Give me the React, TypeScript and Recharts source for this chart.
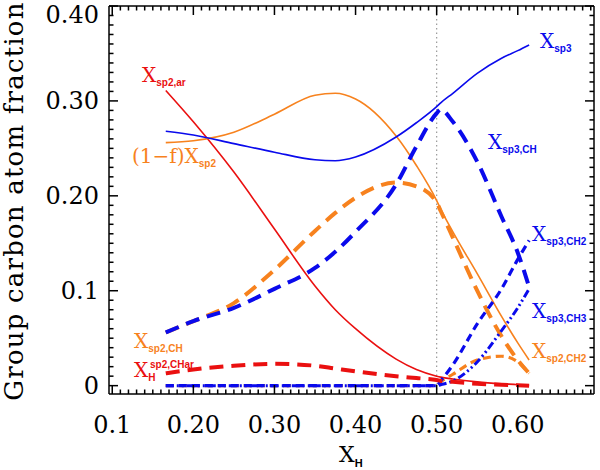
import { Line, LineChart, ReferenceLine, XAxis, YAxis } from 'recharts';

// X_H grid shared by every curve
const xH = [0.166, 0.2, 0.25, 0.3, 0.35, 0.375, 0.4, 0.45, 0.475, 0.5, 0.505, 0.52, 0.55, 0.58, 0.6, 0.614];

const xSp3 = [0.268, 0.264, 0.255, 0.246, 0.238, 0.237, 0.241, 0.262, 0.277, 0.294, 0.298, 0.308, 0.329, 0.345, 0.353, 0.359];
const xSp2Free = [0.256, 0.258, 0.267, 0.286, 0.306, 0.308, 0.302, 0.263, 0.232, 0.195, 0.186, 0.162, 0.118, 0.073, 0.045, 0.027];
const xSp2Ar = [0.311, 0.278, 0.225, 0.165, 0.105, 0.08, 0.06, 0.028, 0.017, 0.01, 0.009, 0.007, 0.004, 0.002, 0.001, 0.0];
const xSp2CH = [0.056, 0.068, 0.087, 0.122, 0.163, 0.182, 0.198, 0.214, 0.21, 0.193, 0.184, 0.156, 0.1, 0.052, 0.027, 0.013];
const xSp3CH = [0.056, 0.068, 0.082, 0.102, 0.124, 0.141, 0.162, 0.212, 0.252, 0.287, 0.291, 0.278, 0.236, 0.178, 0.14, 0.104];
const xSp3CH2 = [0, 0, 0, 0, 0, 0, 0, 0, 0, 0, 0.005, 0.022, 0.065, 0.102, 0.133, 0.153];
const xSp3CH3 = [0, 0, 0, 0, 0, 0, 0, 0, 0, 0, 0.001, 0.005, 0.025, 0.058, 0.082, 0.102];
const xSp2CH2 = [0, 0, 0, 0, 0, 0, 0, 0, 0, 0, 0.004, 0.012, 0.027, 0.031, 0.025, 0.013];
const xHsp2CHar = [0.013, 0.017, 0.021, 0.023, 0.021, 0.018, 0.015, 0.01, 0.008, 0.006, 0.005, 0.004, 0.002, 0.001, 0.0005, 0.0];

const xMajorTicks = [0.1, 0.2, 0.3, 0.4, 0.5, 0.6];
const xMajorLabels = ['0.1', '0.20', '0.30', '0.40', '0.50', '0.60'];
const yMajorTicks = [0, 0.1, 0.2, 0.3, 0.4];
const yMajorLabels = ['0', '0.1', '0.20', '0.30', '0.40'];

const xMinorTicks = Array.from({ length: 60 }, (_, i) => +(0.1 + i * 0.01).toFixed(2));
const yMinorTicks = Array.from({ length: 41 }, (_, i) => +(i * 0.01).toFixed(2));

const data = xH.map((x, i) => ({
  x,
  xSp3: xSp3[i],
  xSp2Free: xSp2Free[i],
  xSp2Ar: xSp2Ar[i],
  xSp2CH: xSp2CH[i],
  xSp3CH: xSp3CH[i],
  xSp3CH2: xSp3CH2[i],
  xSp3CH3: xSp3CH3[i],
  xSp2CH2: xSp2CH2[i],
  xHsp2CHar: xHsp2CHar[i]
}));

const BLUE = '#0a0aec';
const ORANGE = '#f7821e';
const RED = '#ea1010';
const SERIF = '"DejaVu Serif", serif';
const SANS = '"Liberation Sans", Arial, sans-serif';

const X_DOMAIN: [number, number] = [0.096, 0.694];
const Y_DOMAIN: [number, number] = [-0.0088, 0.4];

const near = (a: number, b: number) => Math.abs(a - b) < 1e-6;
const isMajor = (v: number) => near(v * 10, Math.round(v * 10));
const tickLen = (v: number) => (isMajor(v) ? 9 : 4.5);
const TW = 1.5;

// inward tick marks drawn as thin filled rects; labels only on major ticks
function BottomTick(props: any) {
  const x = Number(props.x);
  const y = Number(props.y);
  const v = props.payload.value;
  const i = xMajorTicks.findIndex((t) => near(t, v));
  const len = tickLen(v);
  return (
    <g>
      <rect x={x - TW / 2} y={y - len} width={TW} height={len} fill="#000" />
      {i >= 0 && (
        <text x={x} y={y + 39} textAnchor="middle" fontFamily={SERIF} fontSize={24} fill="#000">
          {xMajorLabels[i]}
        </text>
      )}
    </g>
  );
}

function TopTick(props: any) {
  const x = Number(props.x);
  const y = Number(props.y);
  const len = tickLen(props.payload.value);
  return <rect x={x - TW / 2} y={y} width={TW} height={len} fill="#000" />;
}

function LeftTick(props: any) {
  const x = Number(props.x);
  const y = Number(props.y);
  const v = props.payload.value;
  const i = yMajorTicks.findIndex((t) => near(t, v));
  const len = tickLen(v);
  return (
    <g>
      <rect x={x} y={y - TW / 2} width={len} height={TW} fill="#000" />
      {i >= 0 && (
        <text x={x - 10} y={Math.max(y + 8, 23)} textAnchor="end" fontFamily={SERIF} fontSize={24} fill="#000">
          {yMajorLabels[i]}
        </text>
      )}
    </g>
  );
}

function RightTick(props: any) {
  const x = Number(props.x);
  const y = Number(props.y);
  const len = tickLen(props.payload.value);
  return <rect x={x - len} y={y - TW / 2} width={len} height={TW} fill="#000" />;
}

type Note = { x: number; y: number; color: string; main: string; sub?: string; sup?: string };

const notes: Note[] = [
  { x: 142, y: 82, color: RED, main: 'X', sub: 'sp2,ar' },
  { x: 132, y: 163, color: ORANGE, main: '(1\u2212f)X', sub: 'sp2' },
  { x: 540, y: 48, color: BLUE, main: 'X', sub: 'sp3' },
  { x: 488, y: 149, color: BLUE, main: 'X', sub: 'sp3,CH' },
  { x: 532, y: 241, color: BLUE, main: 'X', sub: 'sp3,CH2' },
  { x: 532, y: 318, color: BLUE, main: 'X', sub: 'sp3,CH3' },
  { x: 532, y: 358, color: ORANGE, main: 'X', sub: 'sp2,CH2' },
  { x: 134, y: 348, color: ORANGE, main: 'X', sub: 'sp2,CH' },
  { x: 134, y: 377, color: RED, main: 'X', sub: 'H', sup: 'sp2,CHar' }
];

// text layer sits underneath the (transparent) chart svg
function Annotations() {
  return (
    <svg width={600} height={470} style={{ position: 'absolute', left: 0, top: 0, zIndex: 0 }}>
      {notes.map((n, k) => (
        <g key={k} fill={n.color}>
          <text x={n.x} y={n.y} fontFamily={SERIF} fontSize={20}>
            {n.main}
            {n.sub && (
              <tspan fontFamily={SANS} fontWeight="bold" fontSize={10} dy={4}>
                {n.sub}
              </tspan>
            )}
          </text>
          {n.sup && (
            <text x={n.x + 16} y={n.y - 9} fontFamily={SANS} fontWeight="bold" fontSize={10}>
              {n.sup}
            </text>
          )}
        </g>
      ))}
      <text
        x={23}
        y={201}
        transform="rotate(-90, 23, 201)"
        textAnchor="middle"
        fontFamily={SERIF}
        fontSize={26}
        letterSpacing={1.2}
        fill="#000"
      >
        Group carbon atom fraction
      </text>
      <text x={339} y={462} fontFamily={SERIF} fontSize={22} fill="#000">
        X
        <tspan fontFamily={SANS} fontWeight="bold" fontSize={11} dy={5}>
          H
        </tspan>
      </text>
    </svg>
  );
}

const axisLine = { stroke: '#000', strokeWidth: 1.5 };

export default function App() {
  return (
    <div style={{ position: 'absolute', left: 0, top: 0, width: 600, height: 470, background: '#fff' }}>
      <Annotations />
      <div style={{ position: 'absolute', left: 0, top: 0, zIndex: 1 }}>
        <LineChart width={600} height={470} data={data} margin={{ top: 5, right: 5, left: 0, bottom: 0 }}>
          <XAxis
            dataKey="x"
            type="number"
            domain={X_DOMAIN}
            ticks={xMinorTicks}
            interval={0}
            tickSize={0}
            tickMargin={0}
            tickLine={false}
            tick={<BottomTick />}
            height={76}
            axisLine={axisLine}
          />
          <XAxis
            xAxisId="top"
            orientation="top"
            dataKey="x"
            type="number"
            domain={X_DOMAIN}
            ticks={xMinorTicks}
            interval={0}
            tickSize={0}
            tickMargin={0}
            tickLine={false}
            tick={<TopTick />}
            height={1}
            axisLine={axisLine}
          />
          <YAxis
            type="number"
            domain={Y_DOMAIN}
            ticks={yMinorTicks}
            interval={0}
            tickSize={0}
            tickMargin={0}
            tickLine={false}
            tick={<LeftTick />}
            width={109}
            axisLine={axisLine}
          />
          <YAxis
            yAxisId="right"
            orientation="right"
            type="number"
            domain={Y_DOMAIN}
            ticks={yMinorTicks}
            interval={0}
            tickSize={0}
            tickMargin={0}
            tickLine={false}
            tick={<RightTick />}
            width={1}
            axisLine={axisLine}
          />
          <ReferenceLine x={0.5} stroke="#999" strokeDasharray="1.5 3" strokeWidth={1.2} />

          {/* invisible copy that ties the mirrored top/right axes to the data */}
          <Line xAxisId="top" yAxisId="right" dataKey="xSp3" stroke="none" dot={false} isAnimationActive={false} />

          <Line type="monotone" dataKey="xSp2Ar" stroke={RED} strokeWidth={1.6} dot={false} isAnimationActive={false} />
          <Line type="monotone" dataKey="xSp2Free" stroke={ORANGE} strokeWidth={1.6} dot={false} isAnimationActive={false} />
          <Line type="monotone" dataKey="xSp3" stroke={BLUE} strokeWidth={1.6} dot={false} isAnimationActive={false} />
          <Line type="monotone" dataKey="xSp2CH" stroke={ORANGE} strokeWidth={4} strokeDasharray="14 8" dot={false} isAnimationActive={false} />
          <Line type="monotone" dataKey="xSp2CH2" stroke={ORANGE} strokeWidth={3.2} strokeDasharray="8 5" dot={false} isAnimationActive={false} />
          <Line type="monotone" dataKey="xSp3CH" stroke={BLUE} strokeWidth={4} strokeDasharray="14 8" dot={false} isAnimationActive={false} />
          <Line type="monotone" dataKey="xSp3CH2" stroke={BLUE} strokeWidth={3.2} strokeDasharray="8 5" dot={false} isAnimationActive={false} />
          <Line type="monotone" dataKey="xSp3CH3" stroke={BLUE} strokeWidth={3} strokeDasharray="8 3 2 3 2 3" dot={false} isAnimationActive={false} />
          <Line type="monotone" dataKey="xHsp2CHar" stroke={RED} strokeWidth={4} strokeDasharray="14 8" dot={false} isAnimationActive={false} />
        </LineChart>
      </div>
    </div>
  );
}
